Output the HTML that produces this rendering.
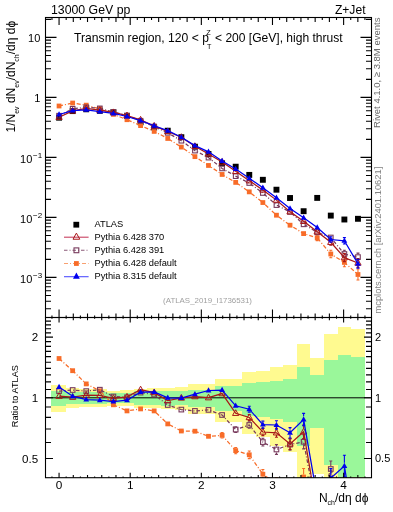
<!DOCTYPE html>
<html><head><meta charset="utf-8"><style>
html,body{margin:0;padding:0;background:#fff;width:393px;height:512px;overflow:hidden}
svg{position:absolute;left:0;top:0;will-change:transform}
text{font-family:"Liberation Sans",sans-serif;}
</style></head><body>
<svg width="393" height="512" viewBox="0 0 393 512">
<defs><clipPath id="cu"><rect x="45.5" y="17.5" width="326.0" height="300.0"/></clipPath><clipPath id="cr"><rect x="45.5" y="317.5" width="326.0" height="160.2"/></clipPath></defs>
<g clip-path="url(#cr)" shape-rendering="crispEdges"><rect x="51.10" y="385.30" width="14.80" height="27.09" fill="#fffa90"/><rect x="65.85" y="388.30" width="13.64" height="20.16" fill="#fffa90"/><rect x="79.44" y="389.30" width="13.64" height="17.91" fill="#fffa90"/><rect x="93.03" y="389.30" width="13.64" height="17.91" fill="#fffa90"/><rect x="106.61" y="390.50" width="13.64" height="15.26" fill="#fffa90"/><rect x="120.20" y="390.00" width="13.64" height="16.36" fill="#fffa90"/><rect x="133.79" y="388.60" width="13.64" height="19.48" fill="#fffa90"/><rect x="147.37" y="388.30" width="13.64" height="20.16" fill="#fffa90"/><rect x="160.96" y="387.60" width="13.64" height="21.75" fill="#fffa90"/><rect x="174.55" y="387.00" width="13.64" height="23.12" fill="#fffa90"/><rect x="188.13" y="384.40" width="13.64" height="29.23" fill="#fffa90"/><rect x="201.72" y="384.40" width="13.64" height="29.23" fill="#fffa90"/><rect x="215.31" y="378.90" width="13.64" height="43.04" fill="#fffa90"/><rect x="228.89" y="378.90" width="13.64" height="43.04" fill="#fffa90"/><rect x="242.48" y="372.20" width="13.64" height="61.93" fill="#fffa90"/><rect x="256.07" y="370.70" width="13.64" height="66.55" fill="#fffa90"/><rect x="269.65" y="366.70" width="13.64" height="79.78" fill="#fffa90"/><rect x="283.24" y="364.60" width="13.64" height="87.33" fill="#fffa90"/><rect x="296.83" y="344.10" width="13.64" height="217.83" fill="#fffa90"/><rect x="310.41" y="357.80" width="13.64" height="115.77" fill="#fffa90"/><rect x="324.00" y="334.40" width="13.64" height="265.60" fill="#fffa90"/><rect x="337.59" y="327.20" width="13.64" height="272.80" fill="#fffa90"/><rect x="351.17" y="328.80" width="13.64" height="271.20" fill="#fffa90"/><rect x="51.10" y="390.60" width="14.80" height="15.05" fill="#9af79a"/><rect x="65.85" y="391.60" width="13.64" height="12.87" fill="#9af79a"/><rect x="79.44" y="392.00" width="13.64" height="12.01" fill="#9af79a"/><rect x="93.03" y="392.00" width="13.64" height="12.01" fill="#9af79a"/><rect x="106.61" y="392.50" width="13.64" height="10.94" fill="#9af79a"/><rect x="120.20" y="392.50" width="13.64" height="10.94" fill="#9af79a"/><rect x="133.79" y="391.00" width="13.64" height="14.17" fill="#9af79a"/><rect x="147.37" y="391.00" width="13.64" height="14.17" fill="#9af79a"/><rect x="160.96" y="390.50" width="13.64" height="15.26" fill="#9af79a"/><rect x="174.55" y="391.00" width="13.64" height="14.17" fill="#9af79a"/><rect x="188.13" y="389.80" width="13.64" height="16.81" fill="#9af79a"/><rect x="201.72" y="389.80" width="13.64" height="16.81" fill="#9af79a"/><rect x="215.31" y="386.00" width="13.64" height="25.44" fill="#9af79a"/><rect x="228.89" y="386.00" width="13.64" height="25.44" fill="#9af79a"/><rect x="242.48" y="382.90" width="13.64" height="32.87" fill="#9af79a"/><rect x="256.07" y="382.00" width="13.64" height="35.09" fill="#9af79a"/><rect x="269.65" y="380.80" width="13.64" height="38.12" fill="#9af79a"/><rect x="283.24" y="379.00" width="13.64" height="42.77" fill="#9af79a"/><rect x="296.83" y="367.00" width="13.64" height="78.73" fill="#9af79a"/><rect x="310.41" y="375.40" width="13.64" height="52.58" fill="#9af79a"/><rect x="324.00" y="360.30" width="13.64" height="104.48" fill="#9af79a"/><rect x="337.59" y="355.30" width="13.64" height="128.34" fill="#9af79a"/><rect x="351.17" y="356.90" width="13.64" height="120.13" fill="#9af79a"/></g>
<line x1="45.5" y1="397.8" x2="371.5" y2="397.8" stroke="#000" stroke-width="1"/>
<g clip-path="url(#cu)"><rect x="56.11" y="114.75" width="5.90" height="5.90" fill="#000"/><rect x="69.70" y="108.15" width="5.90" height="5.90" fill="#000"/><rect x="83.28" y="106.35" width="5.90" height="5.90" fill="#000"/><rect x="96.87" y="107.85" width="5.90" height="5.90" fill="#000"/><rect x="110.46" y="109.35" width="5.90" height="5.90" fill="#000"/><rect x="124.04" y="112.85" width="5.90" height="5.90" fill="#000"/><rect x="137.63" y="119.35" width="5.90" height="5.90" fill="#000"/><rect x="151.22" y="124.55" width="5.90" height="5.90" fill="#000"/><rect x="164.80" y="127.75" width="5.90" height="5.90" fill="#000"/><rect x="178.39" y="134.25" width="5.90" height="5.90" fill="#000"/><rect x="191.98" y="143.75" width="5.90" height="5.90" fill="#000"/><rect x="205.56" y="151.05" width="5.90" height="5.90" fill="#000"/><rect x="219.15" y="160.35" width="5.90" height="5.90" fill="#000"/><rect x="232.74" y="163.75" width="5.90" height="5.90" fill="#000"/><rect x="246.32" y="171.95" width="5.90" height="5.90" fill="#000"/><rect x="259.91" y="176.85" width="5.90" height="5.90" fill="#000"/><rect x="273.50" y="186.75" width="5.90" height="5.90" fill="#000"/><rect x="287.08" y="195.05" width="5.90" height="5.90" fill="#000"/><rect x="300.67" y="208.25" width="5.90" height="5.90" fill="#000"/><rect x="314.26" y="194.95" width="5.90" height="5.90" fill="#000"/><rect x="327.84" y="212.65" width="5.90" height="5.90" fill="#000"/><rect x="341.43" y="216.55" width="5.90" height="5.90" fill="#000"/><rect x="355.02" y="215.85" width="5.90" height="5.90" fill="#000"/><polyline points="59.06,106.00 72.65,103.03 86.23,105.16 99.82,108.72 113.41,114.38 126.99,119.70 140.58,125.60 154.17,131.40 167.75,138.47 181.34,147.08 194.93,156.64 208.51,165.46 222.10,174.46 235.69,182.41 249.27,191.86 262.86,202.54 276.45,215.20 290.03,225.20 303.62,233.60 317.21,237.90 330.79,254.00 344.38,262.40 357.97,274.50" fill="none" stroke="#f86c28" stroke-width="1.25" stroke-dasharray="4,2,1,2"/><path d="M315.71,235.18h3M315.71,240.62h3M317.21,235.18V235.50M317.21,240.30V240.62" stroke="#f86c28" stroke-width="1.1" fill="none"/><path d="M329.29,250.29h3M329.29,257.71h3M330.79,250.29V251.60M330.79,256.40V257.71" stroke="#f86c28" stroke-width="1.1" fill="none"/><path d="M342.88,258.04h3M342.88,266.76h3M344.38,258.04V260.00M344.38,264.80V266.76" stroke="#f86c28" stroke-width="1.1" fill="none"/><path d="M356.47,269.00h3M356.47,280.00h3M357.97,269.00V272.10M357.97,276.90V280.00" stroke="#f86c28" stroke-width="1.1" fill="none"/><rect x="56.66" y="103.60" width="4.80" height="4.80" fill="#f86c28"/><rect x="70.25" y="100.63" width="4.80" height="4.80" fill="#f86c28"/><rect x="83.83" y="102.76" width="4.80" height="4.80" fill="#f86c28"/><rect x="97.42" y="106.32" width="4.80" height="4.80" fill="#f86c28"/><rect x="111.01" y="111.98" width="4.80" height="4.80" fill="#f86c28"/><rect x="124.59" y="117.30" width="4.80" height="4.80" fill="#f86c28"/><rect x="138.18" y="123.20" width="4.80" height="4.80" fill="#f86c28"/><rect x="151.77" y="129.00" width="4.80" height="4.80" fill="#f86c28"/><rect x="165.35" y="136.07" width="4.80" height="4.80" fill="#f86c28"/><rect x="178.94" y="144.68" width="4.80" height="4.80" fill="#f86c28"/><rect x="192.53" y="154.24" width="4.80" height="4.80" fill="#f86c28"/><rect x="206.11" y="163.06" width="4.80" height="4.80" fill="#f86c28"/><rect x="219.70" y="172.06" width="4.80" height="4.80" fill="#f86c28"/><rect x="233.29" y="180.01" width="4.80" height="4.80" fill="#f86c28"/><rect x="246.87" y="189.46" width="4.80" height="4.80" fill="#f86c28"/><rect x="260.46" y="200.14" width="4.80" height="4.80" fill="#f86c28"/><rect x="274.05" y="212.80" width="4.80" height="4.80" fill="#f86c28"/><rect x="287.63" y="222.80" width="4.80" height="4.80" fill="#f86c28"/><rect x="301.22" y="231.20" width="4.80" height="4.80" fill="#f86c28"/><rect x="314.81" y="235.50" width="4.80" height="4.80" fill="#f86c28"/><rect x="328.39" y="251.60" width="4.80" height="4.80" fill="#f86c28"/><rect x="341.98" y="260.00" width="4.80" height="4.80" fill="#f86c28"/><rect x="355.57" y="272.10" width="4.80" height="4.80" fill="#f86c28"/><polyline points="59.06,115.71 72.65,108.78 86.23,107.31 99.82,108.39 113.41,111.91 126.99,115.65 140.58,120.75 154.17,126.52 167.75,132.84 181.34,140.71 194.93,150.60 208.51,157.60 222.10,168.42 235.69,176.16 249.27,183.00 262.86,192.98 276.45,205.09 290.03,211.93 303.62,224.30 317.21,232.30 330.79,237.50 344.38,254.00 357.97,257.10" fill="none" stroke="#783a5c" stroke-width="1.25" stroke-dasharray="3.5,2,1,2"/><path d="M342.88,250.29h3M342.88,257.71h3M344.38,250.29V251.10M344.38,256.90V257.71" stroke="#783a5c" stroke-width="1.1" fill="none"/><path d="M356.47,253.16h3M356.47,261.04h3M357.97,253.16V254.20M357.97,260.00V261.04" stroke="#783a5c" stroke-width="1.1" fill="none"/><rect x="56.76" y="113.41" width="4.60" height="4.60" fill="none" stroke="#783a5c" stroke-width="1.1"/><rect x="70.35" y="106.48" width="4.60" height="4.60" fill="none" stroke="#783a5c" stroke-width="1.1"/><rect x="83.93" y="105.01" width="4.60" height="4.60" fill="none" stroke="#783a5c" stroke-width="1.1"/><rect x="97.52" y="106.09" width="4.60" height="4.60" fill="none" stroke="#783a5c" stroke-width="1.1"/><rect x="111.11" y="109.61" width="4.60" height="4.60" fill="none" stroke="#783a5c" stroke-width="1.1"/><rect x="124.69" y="113.35" width="4.60" height="4.60" fill="none" stroke="#783a5c" stroke-width="1.1"/><rect x="138.28" y="118.45" width="4.60" height="4.60" fill="none" stroke="#783a5c" stroke-width="1.1"/><rect x="151.87" y="124.22" width="4.60" height="4.60" fill="none" stroke="#783a5c" stroke-width="1.1"/><rect x="165.45" y="130.54" width="4.60" height="4.60" fill="none" stroke="#783a5c" stroke-width="1.1"/><rect x="179.04" y="138.41" width="4.60" height="4.60" fill="none" stroke="#783a5c" stroke-width="1.1"/><rect x="192.63" y="148.30" width="4.60" height="4.60" fill="none" stroke="#783a5c" stroke-width="1.1"/><rect x="206.21" y="155.30" width="4.60" height="4.60" fill="none" stroke="#783a5c" stroke-width="1.1"/><rect x="219.80" y="166.12" width="4.60" height="4.60" fill="none" stroke="#783a5c" stroke-width="1.1"/><rect x="233.39" y="173.86" width="4.60" height="4.60" fill="none" stroke="#783a5c" stroke-width="1.1"/><rect x="246.97" y="180.70" width="4.60" height="4.60" fill="none" stroke="#783a5c" stroke-width="1.1"/><rect x="260.56" y="190.68" width="4.60" height="4.60" fill="none" stroke="#783a5c" stroke-width="1.1"/><rect x="274.15" y="202.79" width="4.60" height="4.60" fill="none" stroke="#783a5c" stroke-width="1.1"/><rect x="287.73" y="209.63" width="4.60" height="4.60" fill="none" stroke="#783a5c" stroke-width="1.1"/><rect x="301.32" y="222.00" width="4.60" height="4.60" fill="none" stroke="#783a5c" stroke-width="1.1"/><rect x="314.91" y="230.00" width="4.60" height="4.60" fill="none" stroke="#783a5c" stroke-width="1.1"/><rect x="328.49" y="235.20" width="4.60" height="4.60" fill="none" stroke="#783a5c" stroke-width="1.1"/><rect x="342.08" y="251.70" width="4.60" height="4.60" fill="none" stroke="#783a5c" stroke-width="1.1"/><rect x="355.67" y="254.80" width="4.60" height="4.60" fill="none" stroke="#783a5c" stroke-width="1.1"/><polyline points="59.06,117.22 72.65,110.92 86.23,108.50 99.82,110.09 113.41,112.45 126.99,115.53 140.58,119.89 154.17,125.95 167.75,131.53 181.34,137.26 194.93,146.34 208.51,153.97 222.10,162.05 235.69,171.31 249.27,180.76 262.86,189.98 276.45,200.12 290.03,211.75 303.62,221.32 317.21,231.70 330.79,242.30 344.38,257.60 357.97,263.00" fill="none" stroke="#a81818" stroke-width="1.25" /><path d="M329.29,239.34h3M329.29,245.26h3M330.79,244.45V245.26" stroke="#a81818" stroke-width="1.1" fill="none"/><path d="M342.88,253.62h3M342.88,261.58h3M344.38,253.62V254.08M344.38,259.75V261.58" stroke="#a81818" stroke-width="1.1" fill="none"/><path d="M356.47,258.59h3M356.47,267.41h3M357.97,258.59V259.48M357.97,265.15V267.41" stroke="#a81818" stroke-width="1.1" fill="none"/><polygon points="59.06,113.71 55.91,119.38 62.21,119.38" fill="none" stroke="#a81818" stroke-width="1.0"/><polygon points="72.65,107.41 69.50,113.08 75.80,113.08" fill="none" stroke="#a81818" stroke-width="1.0"/><polygon points="86.23,104.98 83.08,110.65 89.38,110.65" fill="none" stroke="#a81818" stroke-width="1.0"/><polygon points="99.82,106.57 96.67,112.24 102.97,112.24" fill="none" stroke="#a81818" stroke-width="1.0"/><polygon points="113.41,108.93 110.26,114.60 116.56,114.60" fill="none" stroke="#a81818" stroke-width="1.0"/><polygon points="126.99,112.02 123.84,117.69 130.14,117.69" fill="none" stroke="#a81818" stroke-width="1.0"/><polygon points="140.58,116.37 137.43,122.04 143.73,122.04" fill="none" stroke="#a81818" stroke-width="1.0"/><polygon points="154.17,122.44 151.02,128.11 157.32,128.11" fill="none" stroke="#a81818" stroke-width="1.0"/><polygon points="167.75,128.02 164.60,133.69 170.90,133.69" fill="none" stroke="#a81818" stroke-width="1.0"/><polygon points="181.34,133.74 178.19,139.41 184.49,139.41" fill="none" stroke="#a81818" stroke-width="1.0"/><polygon points="194.93,142.83 191.78,148.50 198.08,148.50" fill="none" stroke="#a81818" stroke-width="1.0"/><polygon points="208.51,150.45 205.36,156.12 211.66,156.12" fill="none" stroke="#a81818" stroke-width="1.0"/><polygon points="222.10,158.53 218.95,164.20 225.25,164.20" fill="none" stroke="#a81818" stroke-width="1.0"/><polygon points="235.69,167.80 232.54,173.47 238.84,173.47" fill="none" stroke="#a81818" stroke-width="1.0"/><polygon points="249.27,177.25 246.12,182.92 252.42,182.92" fill="none" stroke="#a81818" stroke-width="1.0"/><polygon points="262.86,186.46 259.71,192.13 266.01,192.13" fill="none" stroke="#a81818" stroke-width="1.0"/><polygon points="276.45,196.60 273.30,202.27 279.60,202.27" fill="none" stroke="#a81818" stroke-width="1.0"/><polygon points="290.03,208.23 286.88,213.90 293.18,213.90" fill="none" stroke="#a81818" stroke-width="1.0"/><polygon points="303.62,217.80 300.47,223.47 306.77,223.47" fill="none" stroke="#a81818" stroke-width="1.0"/><polygon points="317.21,228.18 314.06,233.85 320.36,233.85" fill="none" stroke="#a81818" stroke-width="1.0"/><polygon points="330.79,238.78 327.64,244.45 333.94,244.45" fill="none" stroke="#a81818" stroke-width="1.0"/><polygon points="344.38,254.08 341.23,259.75 347.53,259.75" fill="none" stroke="#a81818" stroke-width="1.0"/><polygon points="357.97,259.48 354.82,265.15 361.12,265.15" fill="none" stroke="#a81818" stroke-width="1.0"/><polyline points="59.06,114.49 72.65,110.62 86.23,109.84 99.82,111.51 113.41,113.40 126.99,116.51 140.58,120.60 154.17,125.77 167.75,130.70 181.34,137.26 194.93,145.63 208.51,151.83 222.10,161.01 235.69,169.08 249.27,178.29 262.86,187.78 276.45,197.80 290.03,208.42 303.62,217.69 317.21,227.50 330.79,239.50 344.38,240.80 357.97,263.80" fill="none" stroke="#0000ee" stroke-width="1.25" /><path d="M329.29,236.69h3M329.29,242.31h3M330.79,241.48V242.31" stroke="#0000ee" stroke-width="1.1" fill="none"/><path d="M342.88,237.62h3M342.88,243.98h3M344.38,242.78V243.98" stroke="#0000ee" stroke-width="1.1" fill="none"/><path d="M356.47,259.32h3M356.47,268.28h3M357.97,259.32V260.56M357.97,265.78V268.28" stroke="#0000ee" stroke-width="1.1" fill="none"/><polygon points="59.06,111.25 56.16,116.47 61.96,116.47" fill="#0000ee"/><polygon points="72.65,107.39 69.75,112.61 75.55,112.61" fill="#0000ee"/><polygon points="86.23,106.60 83.33,111.82 89.13,111.82" fill="#0000ee"/><polygon points="99.82,108.28 96.92,113.50 102.72,113.50" fill="#0000ee"/><polygon points="113.41,110.16 110.51,115.38 116.31,115.38" fill="#0000ee"/><polygon points="126.99,113.28 124.09,118.50 129.89,118.50" fill="#0000ee"/><polygon points="140.58,117.37 137.68,122.59 143.48,122.59" fill="#0000ee"/><polygon points="154.17,122.54 151.27,127.76 157.07,127.76" fill="#0000ee"/><polygon points="167.75,127.46 164.85,132.68 170.65,132.68" fill="#0000ee"/><polygon points="181.34,134.02 178.44,139.24 184.24,139.24" fill="#0000ee"/><polygon points="194.93,142.39 192.03,147.61 197.83,147.61" fill="#0000ee"/><polygon points="208.51,148.59 205.61,153.81 211.41,153.81" fill="#0000ee"/><polygon points="222.10,157.77 219.20,162.99 225.00,162.99" fill="#0000ee"/><polygon points="235.69,165.84 232.79,171.06 238.59,171.06" fill="#0000ee"/><polygon points="249.27,175.06 246.37,180.28 252.17,180.28" fill="#0000ee"/><polygon points="262.86,184.54 259.96,189.76 265.76,189.76" fill="#0000ee"/><polygon points="276.45,194.56 273.55,199.78 279.35,199.78" fill="#0000ee"/><polygon points="290.03,205.18 287.13,210.40 292.93,210.40" fill="#0000ee"/><polygon points="303.62,214.45 300.72,219.67 306.52,219.67" fill="#0000ee"/><polygon points="317.21,224.26 314.31,229.48 320.11,229.48" fill="#0000ee"/><polygon points="330.79,236.26 327.89,241.48 333.69,241.48" fill="#0000ee"/><polygon points="344.38,237.56 341.48,242.78 347.28,242.78" fill="#0000ee"/><polygon points="357.97,260.56 355.07,265.78 360.87,265.78" fill="#0000ee"/></g>
<g clip-path="url(#cr)"><polyline points="59.06,358.50 72.65,370.70 86.23,383.90 99.82,390.80 113.41,404.80 126.99,410.90 140.58,408.90 154.17,410.90 167.75,423.90 181.34,431.00 194.93,431.20 208.51,436.30 222.10,435.30 235.69,450.60 249.27,454.80 262.86,474.20 276.45,483.48 290.03,489.19 303.62,477.00 317.21,532.20 330.79,526.82 344.38,541.94 357.97,584.95" fill="none" stroke="#f86c28" stroke-width="1.25" stroke-dasharray="4,2,1,2"/><path d="M220.60,432.59h3M220.60,438.01h3M222.10,432.59V432.90M222.10,437.70V438.01" stroke="#f86c28" stroke-width="1.1" fill="none"/><path d="M234.19,447.44h3M234.19,453.76h3M235.69,447.44V448.20M235.69,453.00V453.76" stroke="#f86c28" stroke-width="1.1" fill="none"/><path d="M247.77,451.02h3M247.77,458.58h3M249.27,451.02V452.40M249.27,457.20V458.58" stroke="#f86c28" stroke-width="1.1" fill="none"/><path d="M261.36,469.56h3M261.36,478.84h3M262.86,469.56V471.80M262.86,476.60V478.84" stroke="#f86c28" stroke-width="1.1" fill="none"/><path d="M274.95,477.56h3M274.95,489.40h3M276.45,477.56V481.08M276.45,485.88V489.40" stroke="#f86c28" stroke-width="1.1" fill="none"/><path d="M288.53,482.02h3M288.53,496.37h3M290.03,482.02V486.79M290.03,491.59V496.37" stroke="#f86c28" stroke-width="1.1" fill="none"/><path d="M302.12,468.57h3M302.12,485.43h3M303.62,468.57V474.60M303.62,479.40V485.43" stroke="#f86c28" stroke-width="1.1" fill="none"/><path d="M315.71,523.05h3M315.71,541.35h3M317.21,523.05V529.80M317.21,534.60V541.35" stroke="#f86c28" stroke-width="1.1" fill="none"/><path d="M329.29,514.36h3M329.29,539.29h3M330.79,514.36V524.42M330.79,529.22V539.29" stroke="#f86c28" stroke-width="1.1" fill="none"/><path d="M342.88,527.30h3M342.88,556.59h3M344.38,527.30V539.54M344.38,544.34V556.59" stroke="#f86c28" stroke-width="1.1" fill="none"/><path d="M356.47,566.48h3M356.47,603.43h3M357.97,566.48V582.55M357.97,587.35V603.43" stroke="#f86c28" stroke-width="1.1" fill="none"/><rect x="56.66" y="356.10" width="4.80" height="4.80" fill="#f86c28"/><rect x="70.25" y="368.30" width="4.80" height="4.80" fill="#f86c28"/><rect x="83.83" y="381.50" width="4.80" height="4.80" fill="#f86c28"/><rect x="97.42" y="388.40" width="4.80" height="4.80" fill="#f86c28"/><rect x="111.01" y="402.40" width="4.80" height="4.80" fill="#f86c28"/><rect x="124.59" y="408.50" width="4.80" height="4.80" fill="#f86c28"/><rect x="138.18" y="406.50" width="4.80" height="4.80" fill="#f86c28"/><rect x="151.77" y="408.50" width="4.80" height="4.80" fill="#f86c28"/><rect x="165.35" y="421.50" width="4.80" height="4.80" fill="#f86c28"/><rect x="178.94" y="428.60" width="4.80" height="4.80" fill="#f86c28"/><rect x="192.53" y="428.80" width="4.80" height="4.80" fill="#f86c28"/><rect x="206.11" y="433.90" width="4.80" height="4.80" fill="#f86c28"/><rect x="219.70" y="432.90" width="4.80" height="4.80" fill="#f86c28"/><rect x="233.29" y="448.20" width="4.80" height="4.80" fill="#f86c28"/><rect x="246.87" y="452.40" width="4.80" height="4.80" fill="#f86c28"/><rect x="260.46" y="471.80" width="4.80" height="4.80" fill="#f86c28"/><rect x="274.05" y="481.08" width="4.80" height="4.80" fill="#f86c28"/><rect x="287.63" y="486.79" width="4.80" height="4.80" fill="#f86c28"/><rect x="301.22" y="474.60" width="4.80" height="4.80" fill="#f86c28"/><rect x="314.81" y="529.80" width="4.80" height="4.80" fill="#f86c28"/><rect x="328.39" y="524.42" width="4.80" height="4.80" fill="#f86c28"/><rect x="341.98" y="539.54" width="4.80" height="4.80" fill="#f86c28"/><rect x="355.57" y="582.55" width="4.80" height="4.80" fill="#f86c28"/><polyline points="59.06,391.10 72.65,390.00 86.23,391.10 99.82,389.70 113.41,396.50 126.99,397.30 140.58,392.60 154.17,394.50 167.75,405.00 181.34,409.60 194.93,410.90 208.51,409.90 222.10,415.00 235.69,429.60 249.27,425.00 262.86,442.10 276.45,449.50 290.03,444.60 303.62,441.80 317.21,513.38 330.79,469.00 344.38,513.72 357.97,526.49" fill="none" stroke="#783a5c" stroke-width="1.25" stroke-dasharray="3.5,2,1,2"/><path d="M234.19,426.80h3M234.19,432.40h3" stroke="#783a5c" stroke-width="1.1" fill="none"/><path d="M247.77,421.81h3M247.77,428.19h3M249.27,421.81V422.10M249.27,427.90V428.19" stroke="#783a5c" stroke-width="1.1" fill="none"/><path d="M261.36,438.23h3M261.36,445.97h3M262.86,438.23V439.20M262.86,445.00V445.97" stroke="#783a5c" stroke-width="1.1" fill="none"/><path d="M274.95,444.62h3M274.95,454.38h3M276.45,444.62V446.60M276.45,452.40V454.38" stroke="#783a5c" stroke-width="1.1" fill="none"/><path d="M288.53,439.04h3M288.53,450.16h3M290.03,439.04V441.70M290.03,447.50V450.16" stroke="#783a5c" stroke-width="1.1" fill="none"/><path d="M302.12,434.75h3M302.12,448.85h3M303.62,434.75V438.90M303.62,444.70V448.85" stroke="#783a5c" stroke-width="1.1" fill="none"/><path d="M315.71,505.16h3M315.71,521.60h3M317.21,505.16V510.48M317.21,516.28V521.60" stroke="#783a5c" stroke-width="1.1" fill="none"/><path d="M329.29,461.00h3M329.29,477.00h3M330.79,461.00V466.10M330.79,471.90V477.00" stroke="#783a5c" stroke-width="1.1" fill="none"/><path d="M342.88,501.25h3M342.88,526.19h3M344.38,501.25V510.82M344.38,516.62V526.19" stroke="#783a5c" stroke-width="1.1" fill="none"/><path d="M356.47,513.26h3M356.47,539.72h3M357.97,513.26V523.59M357.97,529.39V539.72" stroke="#783a5c" stroke-width="1.1" fill="none"/><rect x="56.76" y="388.80" width="4.60" height="4.60" fill="none" stroke="#783a5c" stroke-width="1.1"/><rect x="70.35" y="387.70" width="4.60" height="4.60" fill="none" stroke="#783a5c" stroke-width="1.1"/><rect x="83.93" y="388.80" width="4.60" height="4.60" fill="none" stroke="#783a5c" stroke-width="1.1"/><rect x="97.52" y="387.40" width="4.60" height="4.60" fill="none" stroke="#783a5c" stroke-width="1.1"/><rect x="111.11" y="394.20" width="4.60" height="4.60" fill="none" stroke="#783a5c" stroke-width="1.1"/><rect x="124.69" y="395.00" width="4.60" height="4.60" fill="none" stroke="#783a5c" stroke-width="1.1"/><rect x="138.28" y="390.30" width="4.60" height="4.60" fill="none" stroke="#783a5c" stroke-width="1.1"/><rect x="151.87" y="392.20" width="4.60" height="4.60" fill="none" stroke="#783a5c" stroke-width="1.1"/><rect x="165.45" y="402.70" width="4.60" height="4.60" fill="none" stroke="#783a5c" stroke-width="1.1"/><rect x="179.04" y="407.30" width="4.60" height="4.60" fill="none" stroke="#783a5c" stroke-width="1.1"/><rect x="192.63" y="408.60" width="4.60" height="4.60" fill="none" stroke="#783a5c" stroke-width="1.1"/><rect x="206.21" y="407.60" width="4.60" height="4.60" fill="none" stroke="#783a5c" stroke-width="1.1"/><rect x="219.80" y="412.70" width="4.60" height="4.60" fill="none" stroke="#783a5c" stroke-width="1.1"/><rect x="233.39" y="427.30" width="4.60" height="4.60" fill="none" stroke="#783a5c" stroke-width="1.1"/><rect x="246.97" y="422.70" width="4.60" height="4.60" fill="none" stroke="#783a5c" stroke-width="1.1"/><rect x="260.56" y="439.80" width="4.60" height="4.60" fill="none" stroke="#783a5c" stroke-width="1.1"/><rect x="274.15" y="447.20" width="4.60" height="4.60" fill="none" stroke="#783a5c" stroke-width="1.1"/><rect x="287.73" y="442.30" width="4.60" height="4.60" fill="none" stroke="#783a5c" stroke-width="1.1"/><rect x="301.32" y="439.50" width="4.60" height="4.60" fill="none" stroke="#783a5c" stroke-width="1.1"/><rect x="314.91" y="511.08" width="4.60" height="4.60" fill="none" stroke="#783a5c" stroke-width="1.1"/><rect x="328.49" y="466.70" width="4.60" height="4.60" fill="none" stroke="#783a5c" stroke-width="1.1"/><rect x="342.08" y="511.42" width="4.60" height="4.60" fill="none" stroke="#783a5c" stroke-width="1.1"/><rect x="355.67" y="524.19" width="4.60" height="4.60" fill="none" stroke="#783a5c" stroke-width="1.1"/><polyline points="59.06,396.20 72.65,397.20 86.23,395.10 99.82,395.40 113.41,398.30 126.99,396.90 140.58,389.70 154.17,392.60 167.75,400.60 181.34,398.00 194.93,396.60 208.51,397.70 222.10,393.60 235.69,413.30 249.27,417.50 262.86,432.00 276.45,432.80 290.03,444.00 303.62,431.80 317.21,511.37 330.79,487.51 344.38,525.82 357.97,546.31" fill="none" stroke="#a81818" stroke-width="1.25" /><path d="M247.77,414.44h3M247.77,420.56h3M249.27,419.65V420.56" stroke="#a81818" stroke-width="1.1" fill="none"/><path d="M261.36,428.35h3M261.36,435.65h3M262.86,428.35V428.48M262.86,434.15V435.65" stroke="#a81818" stroke-width="1.1" fill="none"/><path d="M274.95,428.37h3M274.95,437.23h3M276.45,428.37V429.28M276.45,434.95V437.23" stroke="#a81818" stroke-width="1.1" fill="none"/><path d="M288.53,438.46h3M288.53,449.54h3M290.03,438.46V440.48M290.03,446.15V449.54" stroke="#a81818" stroke-width="1.1" fill="none"/><path d="M302.12,425.14h3M302.12,438.46h3M303.62,425.14V428.28M303.62,433.95V438.46" stroke="#a81818" stroke-width="1.1" fill="none"/><path d="M315.71,503.24h3M315.71,519.49h3M317.21,503.24V507.85M317.21,513.52V519.49" stroke="#a81818" stroke-width="1.1" fill="none"/><path d="M329.29,477.55h3M329.29,497.47h3M330.79,477.55V484.00M330.79,489.67V497.47" stroke="#a81818" stroke-width="1.1" fill="none"/><path d="M342.88,512.46h3M342.88,539.17h3M344.38,512.46V522.30M344.38,527.97V539.17" stroke="#a81818" stroke-width="1.1" fill="none"/><path d="M356.47,531.50h3M356.47,561.13h3M357.97,531.50V542.80M357.97,548.47V561.13" stroke="#a81818" stroke-width="1.1" fill="none"/><polygon points="59.06,392.68 55.91,398.35 62.21,398.35" fill="none" stroke="#a81818" stroke-width="1.0"/><polygon points="72.65,393.68 69.50,399.35 75.80,399.35" fill="none" stroke="#a81818" stroke-width="1.0"/><polygon points="86.23,391.58 83.08,397.25 89.38,397.25" fill="none" stroke="#a81818" stroke-width="1.0"/><polygon points="99.82,391.88 96.67,397.55 102.97,397.55" fill="none" stroke="#a81818" stroke-width="1.0"/><polygon points="113.41,394.78 110.26,400.45 116.56,400.45" fill="none" stroke="#a81818" stroke-width="1.0"/><polygon points="126.99,393.38 123.84,399.05 130.14,399.05" fill="none" stroke="#a81818" stroke-width="1.0"/><polygon points="140.58,386.18 137.43,391.85 143.73,391.85" fill="none" stroke="#a81818" stroke-width="1.0"/><polygon points="154.17,389.08 151.02,394.75 157.32,394.75" fill="none" stroke="#a81818" stroke-width="1.0"/><polygon points="167.75,397.08 164.60,402.75 170.90,402.75" fill="none" stroke="#a81818" stroke-width="1.0"/><polygon points="181.34,394.48 178.19,400.15 184.49,400.15" fill="none" stroke="#a81818" stroke-width="1.0"/><polygon points="194.93,393.08 191.78,398.75 198.08,398.75" fill="none" stroke="#a81818" stroke-width="1.0"/><polygon points="208.51,394.18 205.36,399.85 211.66,399.85" fill="none" stroke="#a81818" stroke-width="1.0"/><polygon points="222.10,390.08 218.95,395.75 225.25,395.75" fill="none" stroke="#a81818" stroke-width="1.0"/><polygon points="235.69,409.78 232.54,415.45 238.84,415.45" fill="none" stroke="#a81818" stroke-width="1.0"/><polygon points="249.27,413.98 246.12,419.65 252.42,419.65" fill="none" stroke="#a81818" stroke-width="1.0"/><polygon points="262.86,428.48 259.71,434.15 266.01,434.15" fill="none" stroke="#a81818" stroke-width="1.0"/><polygon points="276.45,429.28 273.30,434.95 279.60,434.95" fill="none" stroke="#a81818" stroke-width="1.0"/><polygon points="290.03,440.48 286.88,446.15 293.18,446.15" fill="none" stroke="#a81818" stroke-width="1.0"/><polygon points="303.62,428.28 300.47,433.95 306.77,433.95" fill="none" stroke="#a81818" stroke-width="1.0"/><polygon points="317.21,507.85 314.06,513.52 320.36,513.52" fill="none" stroke="#a81818" stroke-width="1.0"/><polygon points="330.79,484.00 327.64,489.67 333.94,489.67" fill="none" stroke="#a81818" stroke-width="1.0"/><polygon points="344.38,522.30 341.23,527.97 347.53,527.97" fill="none" stroke="#a81818" stroke-width="1.0"/><polygon points="357.97,542.80 354.82,548.47 361.12,548.47" fill="none" stroke="#a81818" stroke-width="1.0"/><polyline points="59.06,387.00 72.65,396.20 86.23,399.60 99.82,400.20 113.41,401.50 126.99,400.20 140.58,392.10 154.17,392.00 167.75,397.80 181.34,398.00 194.93,394.20 208.51,390.50 222.10,390.10 235.69,405.80 249.27,409.20 262.86,424.60 276.45,425.00 290.03,432.80 303.62,419.60 317.21,497.26 330.79,478.10 344.38,466.00 357.97,549.00" fill="none" stroke="#0000ee" stroke-width="1.25" /><path d="M247.77,406.28h3M247.77,412.12h3M249.27,411.18V412.12" stroke="#0000ee" stroke-width="1.1" fill="none"/><path d="M261.36,421.10h3M261.36,428.10h3M262.86,421.10V421.36M262.86,426.58V428.10" stroke="#0000ee" stroke-width="1.1" fill="none"/><path d="M274.95,420.76h3M274.95,429.24h3M276.45,420.76V421.76M276.45,426.98V429.24" stroke="#0000ee" stroke-width="1.1" fill="none"/><path d="M288.53,427.60h3M288.53,438.00h3M290.03,427.60V429.56M290.03,434.78V438.00" stroke="#0000ee" stroke-width="1.1" fill="none"/><path d="M302.12,413.39h3M302.12,425.81h3M303.62,413.39V416.36M303.62,421.58V425.81" stroke="#0000ee" stroke-width="1.1" fill="none"/><path d="M315.71,489.76h3M315.71,504.75h3M317.21,489.76V494.02M317.21,499.24V504.75" stroke="#0000ee" stroke-width="1.1" fill="none"/><path d="M329.29,468.67h3M329.29,487.54h3M330.79,468.67V474.87M330.79,480.09V487.54" stroke="#0000ee" stroke-width="1.1" fill="none"/><path d="M342.88,455.30h3M342.88,476.70h3M344.38,455.30V462.76M344.38,467.98V476.70" stroke="#0000ee" stroke-width="1.1" fill="none"/><path d="M356.47,533.95h3M356.47,564.05h3M357.97,533.95V545.76M357.97,550.98V564.05" stroke="#0000ee" stroke-width="1.1" fill="none"/><polygon points="59.06,383.76 56.16,388.98 61.96,388.98" fill="#0000ee"/><polygon points="72.65,392.96 69.75,398.18 75.55,398.18" fill="#0000ee"/><polygon points="86.23,396.36 83.33,401.58 89.13,401.58" fill="#0000ee"/><polygon points="99.82,396.96 96.92,402.18 102.72,402.18" fill="#0000ee"/><polygon points="113.41,398.26 110.51,403.48 116.31,403.48" fill="#0000ee"/><polygon points="126.99,396.96 124.09,402.18 129.89,402.18" fill="#0000ee"/><polygon points="140.58,388.86 137.68,394.08 143.48,394.08" fill="#0000ee"/><polygon points="154.17,388.76 151.27,393.98 157.07,393.98" fill="#0000ee"/><polygon points="167.75,394.56 164.85,399.78 170.65,399.78" fill="#0000ee"/><polygon points="181.34,394.76 178.44,399.98 184.24,399.98" fill="#0000ee"/><polygon points="194.93,390.96 192.03,396.18 197.83,396.18" fill="#0000ee"/><polygon points="208.51,387.26 205.61,392.48 211.41,392.48" fill="#0000ee"/><polygon points="222.10,386.86 219.20,392.08 225.00,392.08" fill="#0000ee"/><polygon points="235.69,402.56 232.79,407.78 238.59,407.78" fill="#0000ee"/><polygon points="249.27,405.96 246.37,411.18 252.17,411.18" fill="#0000ee"/><polygon points="262.86,421.36 259.96,426.58 265.76,426.58" fill="#0000ee"/><polygon points="276.45,421.76 273.55,426.98 279.35,426.98" fill="#0000ee"/><polygon points="290.03,429.56 287.13,434.78 292.93,434.78" fill="#0000ee"/><polygon points="303.62,416.36 300.72,421.58 306.52,421.58" fill="#0000ee"/><polygon points="317.21,494.02 314.31,499.24 320.11,499.24" fill="#0000ee"/><polygon points="330.79,474.87 327.89,480.09 333.69,480.09" fill="#0000ee"/><polygon points="344.38,462.76 341.48,467.98 347.28,467.98" fill="#0000ee"/><polygon points="357.97,545.76 355.07,550.98 360.87,550.98" fill="#0000ee"/></g>
<rect x="45.5" y="17.5" width="326.0" height="300.0" fill="none" stroke="#000" stroke-width="1.1"/>
<rect x="45.5" y="317.5" width="326.0" height="160.2" fill="none" stroke="#000" stroke-width="1.1"/>
<path d="M45.5,308.77h5.5M371.5,308.77h-5.5M45.5,301.28h5.5M371.5,301.28h-5.5M45.5,295.46h5.5M371.5,295.46h-5.5M45.5,290.71h5.5M371.5,290.71h-5.5M45.5,286.69h5.5M371.5,286.69h-5.5M45.5,283.21h5.5M371.5,283.21h-5.5M45.5,280.15h5.5M371.5,280.15h-5.5M45.5,277.40h11M371.5,277.40h-11M45.5,259.34h5.5M371.5,259.34h-5.5M45.5,248.77h5.5M371.5,248.77h-5.5M45.5,241.28h5.5M371.5,241.28h-5.5M45.5,235.46h5.5M371.5,235.46h-5.5M45.5,230.71h5.5M371.5,230.71h-5.5M45.5,226.69h5.5M371.5,226.69h-5.5M45.5,223.21h5.5M371.5,223.21h-5.5M45.5,220.15h5.5M371.5,220.15h-5.5M45.5,217.40h11M371.5,217.40h-11M45.5,199.34h5.5M371.5,199.34h-5.5M45.5,188.77h5.5M371.5,188.77h-5.5M45.5,181.28h5.5M371.5,181.28h-5.5M45.5,175.46h5.5M371.5,175.46h-5.5M45.5,170.71h5.5M371.5,170.71h-5.5M45.5,166.69h5.5M371.5,166.69h-5.5M45.5,163.21h5.5M371.5,163.21h-5.5M45.5,160.15h5.5M371.5,160.15h-5.5M45.5,157.40h11M371.5,157.40h-11M45.5,139.34h5.5M371.5,139.34h-5.5M45.5,128.77h5.5M371.5,128.77h-5.5M45.5,121.28h5.5M371.5,121.28h-5.5M45.5,115.46h5.5M371.5,115.46h-5.5M45.5,110.71h5.5M371.5,110.71h-5.5M45.5,106.69h5.5M371.5,106.69h-5.5M45.5,103.21h5.5M371.5,103.21h-5.5M45.5,100.15h5.5M371.5,100.15h-5.5M45.5,97.40h11M371.5,97.40h-11M45.5,79.34h5.5M371.5,79.34h-5.5M45.5,68.77h5.5M371.5,68.77h-5.5M45.5,61.28h5.5M371.5,61.28h-5.5M45.5,55.46h5.5M371.5,55.46h-5.5M45.5,50.71h5.5M371.5,50.71h-5.5M45.5,46.69h5.5M371.5,46.69h-5.5M45.5,43.21h5.5M371.5,43.21h-5.5M45.5,40.15h5.5M371.5,40.15h-5.5M45.5,37.40h11M371.5,37.40h-11M45.5,19.34h5.5M371.5,19.34h-5.5M51.95,317.5v-2M51.95,17.5v2.5M51.95,317.5v1.2M51.95,477.7v-1.2M59.06,317.5v-8M59.06,17.5v7.5M59.06,317.5v5M59.06,477.7v-5M66.17,317.5v-2M66.17,17.5v2.5M66.17,317.5v1.2M66.17,477.7v-1.2M73.29,317.5v-4M73.29,17.5v4.4M73.29,317.5v2.8M73.29,477.7v-2.8M80.40,317.5v-2M80.40,17.5v2.5M80.40,317.5v1.2M80.40,477.7v-1.2M87.52,317.5v-4M87.52,17.5v4.4M87.52,317.5v2.8M87.52,477.7v-2.8M94.63,317.5v-2M94.63,17.5v2.5M94.63,317.5v1.2M94.63,477.7v-1.2M101.74,317.5v-4M101.74,17.5v4.4M101.74,317.5v2.8M101.74,477.7v-2.8M108.86,317.5v-2M108.86,17.5v2.5M108.86,317.5v1.2M108.86,477.7v-1.2M115.97,317.5v-4M115.97,17.5v4.4M115.97,317.5v2.8M115.97,477.7v-2.8M123.09,317.5v-2M123.09,17.5v2.5M123.09,317.5v1.2M123.09,477.7v-1.2M130.20,317.5v-8M130.20,17.5v7.5M130.20,317.5v5M130.20,477.7v-5M137.31,317.5v-2M137.31,17.5v2.5M137.31,317.5v1.2M137.31,477.7v-1.2M144.43,317.5v-4M144.43,17.5v4.4M144.43,317.5v2.8M144.43,477.7v-2.8M151.54,317.5v-2M151.54,17.5v2.5M151.54,317.5v1.2M151.54,477.7v-1.2M158.66,317.5v-4M158.66,17.5v4.4M158.66,317.5v2.8M158.66,477.7v-2.8M165.77,317.5v-2M165.77,17.5v2.5M165.77,317.5v1.2M165.77,477.7v-1.2M172.88,317.5v-4M172.88,17.5v4.4M172.88,317.5v2.8M172.88,477.7v-2.8M180.00,317.5v-2M180.00,17.5v2.5M180.00,317.5v1.2M180.00,477.7v-1.2M187.11,317.5v-4M187.11,17.5v4.4M187.11,317.5v2.8M187.11,477.7v-2.8M194.23,317.5v-2M194.23,17.5v2.5M194.23,317.5v1.2M194.23,477.7v-1.2M201.34,317.5v-8M201.34,17.5v7.5M201.34,317.5v5M201.34,477.7v-5M208.45,317.5v-2M208.45,17.5v2.5M208.45,317.5v1.2M208.45,477.7v-1.2M215.57,317.5v-4M215.57,17.5v4.4M215.57,317.5v2.8M215.57,477.7v-2.8M222.68,317.5v-2M222.68,17.5v2.5M222.68,317.5v1.2M222.68,477.7v-1.2M229.80,317.5v-4M229.80,17.5v4.4M229.80,317.5v2.8M229.80,477.7v-2.8M236.91,317.5v-2M236.91,17.5v2.5M236.91,317.5v1.2M236.91,477.7v-1.2M244.02,317.5v-4M244.02,17.5v4.4M244.02,317.5v2.8M244.02,477.7v-2.8M251.14,317.5v-2M251.14,17.5v2.5M251.14,317.5v1.2M251.14,477.7v-1.2M258.25,317.5v-4M258.25,17.5v4.4M258.25,317.5v2.8M258.25,477.7v-2.8M265.37,317.5v-2M265.37,17.5v2.5M265.37,317.5v1.2M265.37,477.7v-1.2M272.48,317.5v-8M272.48,17.5v7.5M272.48,317.5v5M272.48,477.7v-5M279.59,317.5v-2M279.59,17.5v2.5M279.59,317.5v1.2M279.59,477.7v-1.2M286.71,317.5v-4M286.71,17.5v4.4M286.71,317.5v2.8M286.71,477.7v-2.8M293.82,317.5v-2M293.82,17.5v2.5M293.82,317.5v1.2M293.82,477.7v-1.2M300.94,317.5v-4M300.94,17.5v4.4M300.94,317.5v2.8M300.94,477.7v-2.8M308.05,317.5v-2M308.05,17.5v2.5M308.05,317.5v1.2M308.05,477.7v-1.2M315.16,317.5v-4M315.16,17.5v4.4M315.16,317.5v2.8M315.16,477.7v-2.8M322.28,317.5v-2M322.28,17.5v2.5M322.28,317.5v1.2M322.28,477.7v-1.2M329.39,317.5v-4M329.39,17.5v4.4M329.39,317.5v2.8M329.39,477.7v-2.8M336.51,317.5v-2M336.51,17.5v2.5M336.51,317.5v1.2M336.51,477.7v-1.2M343.62,317.5v-8M343.62,17.5v7.5M343.62,317.5v5M343.62,477.7v-5M350.73,317.5v-2M350.73,17.5v2.5M350.73,317.5v1.2M350.73,477.7v-1.2M357.85,317.5v-4M357.85,17.5v4.4M357.85,317.5v2.8M357.85,477.7v-2.8M364.96,317.5v-2M364.96,17.5v2.5M364.96,317.5v1.2M364.96,477.7v-1.2M45.5,458.49h7.5M371.5,458.49h-7.5M45.5,442.52h5.5M371.5,442.52h-5.5M45.5,429.03h5.5M371.5,429.03h-5.5M45.5,417.34h5.5M371.5,417.34h-5.5M45.5,407.02h5.5M371.5,407.02h-5.5M45.5,397.80h7.5M371.5,397.80h-7.5M45.5,389.46h5.5M371.5,389.46h-5.5M45.5,381.84h5.5M371.5,381.84h-5.5M45.5,374.83h5.5M371.5,374.83h-5.5M45.5,368.34h5.5M371.5,368.34h-5.5M45.5,362.30h5.5M371.5,362.30h-5.5M45.5,356.65h5.5M371.5,356.65h-5.5M45.5,351.34h5.5M371.5,351.34h-5.5M45.5,346.34h5.5M371.5,346.34h-5.5M45.5,341.60h5.5M371.5,341.60h-5.5M45.5,337.11h7.5M371.5,337.11h-7.5M45.5,332.84h5.5M371.5,332.84h-5.5M45.5,328.77h5.5M371.5,328.77h-5.5M45.5,324.88h5.5M371.5,324.88h-5.5M45.5,321.15h5.5M371.5,321.15h-5.5" stroke="#000" stroke-width="1.1" fill="none"/>
<g><text x="94.50" y="227.40" font-size="9.3" text-anchor="start" fill="#000" >ATLAS</text><rect x="73.40" y="221.80" width="5.80" height="5.80" fill="#000"/><text x="94.50" y="239.90" font-size="9.3" text-anchor="start" fill="#000" >Pythia 6.428 370</text><line x1="64" y1="237.20" x2="88.6" y2="237.20" stroke="#c84060" stroke-width="1.1" /><polygon points="76.40,233.11 73.00,239.23 79.80,239.23" fill="none" stroke="#a81818" stroke-width="1.0"/><text x="94.50" y="253.00" font-size="9.3" text-anchor="start" fill="#000" >Pythia 6.428 391</text><line x1="64" y1="250.30" x2="88.6" y2="250.30" stroke="#8a5a78" stroke-width="1.1" stroke-dasharray="3.5,2,1,2"/><rect x="74.00" y="247.90" width="4.80" height="4.80" fill="none" stroke="#783a5c" stroke-width="1.1"/><text x="94.50" y="266.20" font-size="9.3" text-anchor="start" fill="#000" >Pythia 6.428 default</text><line x1="64" y1="263.50" x2="88.6" y2="263.50" stroke="#f8a070" stroke-width="1.1" stroke-dasharray="4,2,1,2"/><rect x="74.00" y="261.10" width="4.80" height="4.80" fill="#f86c28"/><text x="94.50" y="279.40" font-size="9.3" text-anchor="start" fill="#000" >Pythia 8.315 default</text><line x1="64" y1="276.70" x2="88.6" y2="276.70" stroke="#5050ff" stroke-width="1.1" /><polygon points="76.40,272.61 73.00,278.73 79.80,278.73" fill="#0000ee"/></g>
<text x="51.00" y="14.30" font-size="12.3" text-anchor="start" fill="#000" >13000 GeV pp</text>
<text x="365.50" y="14.30" font-size="12.1" text-anchor="end" fill="#000" >Z+Jet</text>
<text x="74.1" y="41.6" font-size="12.15">Transmin region, 120 &lt;</text><text x="202.3" y="41.6" font-size="12">p</text><text x="206.2" y="35.3" font-size="7.3">Z</text><text x="206.9" y="49" font-size="7.2">T</text><text x="215" y="41.6" font-size="12.05">&lt; 200 [GeV], high thrust</text>
<text x="40.30" y="41.80" font-size="11" text-anchor="end" fill="#000" >10</text>
<text x="40.30" y="101.80" font-size="11" text-anchor="end" fill="#000" >1</text>
<text x="32.3" y="162.9" font-size="11" text-anchor="end">10</text><text x="33" y="157.9" font-size="8">−1</text>
<text x="32.3" y="222.9" font-size="11" text-anchor="end">10</text><text x="33" y="217.9" font-size="8">−2</text>
<text x="32.3" y="282.9" font-size="11" text-anchor="end">10</text><text x="33" y="277.9" font-size="8">−3</text>
<text x="38.20" y="341.21" font-size="11.6" text-anchor="end" fill="#000" >2</text>
<text x="375.00" y="340.91" font-size="11" text-anchor="start" fill="#000" >2</text>
<text x="38.20" y="401.90" font-size="11.6" text-anchor="end" fill="#000" >1</text>
<text x="375.00" y="401.60" font-size="11" text-anchor="start" fill="#000" >1</text>
<text x="38.20" y="462.59" font-size="11.6" text-anchor="end" fill="#000" >0.5</text>
<text x="375.00" y="462.29" font-size="11" text-anchor="start" fill="#000" >0.5</text>
<text x="59.06" y="488.90" font-size="11.8" text-anchor="middle" fill="#000" >0</text>
<text x="130.20" y="488.90" font-size="11.8" text-anchor="middle" fill="#000" >1</text>
<text x="201.34" y="488.90" font-size="11.8" text-anchor="middle" fill="#000" >2</text>
<text x="272.48" y="488.90" font-size="11.8" text-anchor="middle" fill="#000" >3</text>
<text x="343.62" y="488.90" font-size="11.8" text-anchor="middle" fill="#000" >4</text>
<text x="318.9" y="502.2" font-size="12">N<tspan font-size="7" dy="2.5">ch</tspan><tspan dy="-2.5">/dη dϕ</tspan></text>
<text transform="translate(14.9,132.5) rotate(-90)" font-size="12">1/N<tspan font-size="7" dy="3.6">ev</tspan><tspan dy="-3.6"> dN</tspan><tspan font-size="7" dy="3.6">ev</tspan><tspan dy="-3.6">/dN</tspan><tspan font-size="7" dy="3.6">ch</tspan><tspan dy="-3.6">/dη dϕ</tspan></text>
<text transform="translate(18.3,427.2) rotate(-90)" font-size="9.2">Ratio to ATLAS</text>
<text transform="translate(379.8,127.9) rotate(-90)" font-size="9.5" fill="#686868">Rivet 4.1.0, ≥ 3.8M events</text>
<text transform="translate(381.2,313.6) rotate(-90)" font-size="9.4" fill="#808080">mcplots.cern.ch [arXiv:2401.10621]</text>
<text x="163.10" y="302.50" font-size="7.9" text-anchor="start" fill="#a0a0a0" >(ATLAS_2019_I1736531)</text>
</svg>
</body></html>
